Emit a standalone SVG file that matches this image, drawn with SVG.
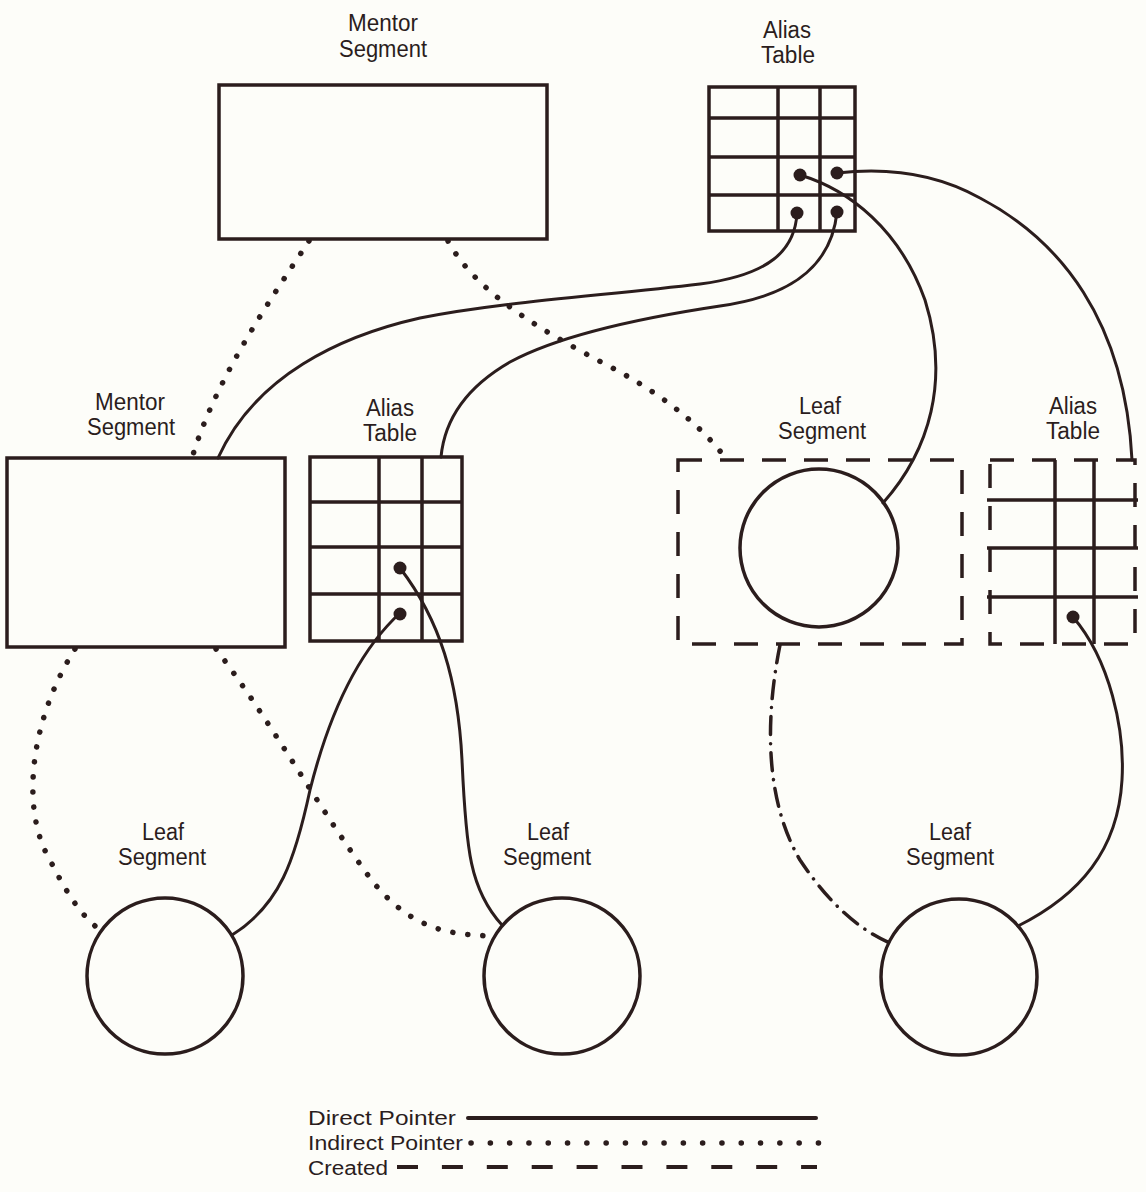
<svg xmlns="http://www.w3.org/2000/svg" width="1146" height="1192" viewBox="0 0 1146 1192">
<style>
  .box{fill:none;stroke:#2b1d1d;stroke-width:3.5}
  .grid{fill:none;stroke:#2b1d1d;stroke-width:3.5}
  .dash{fill:none;stroke:#2b1d1d;stroke-width:3.5;stroke-dasharray:24 18}
  .circ{fill:none;stroke:#2b1d1d;stroke-width:3.5}
  .direct{fill:none;stroke:#2b1d1d;stroke-width:3;stroke-linecap:round}
  .indirect{fill:none;stroke:#2b1d1d;stroke-width:5.5;stroke-linecap:round;stroke-dasharray:0.1 15}
  .created{fill:none;stroke:#2b1d1d;stroke-width:3.5;stroke-linecap:round;stroke-dasharray:18 9 0.1 9}
  .dot{fill:#2b1d1d}
  .lbl{font-family:"Liberation Sans",Arial,sans-serif;font-size:23px;fill:#2b1d1d;text-anchor:middle}
  .leg{font-family:"Liberation Sans",Arial,sans-serif;font-size:20px;fill:#2b1d1d}
</style>
<rect x="0" y="0" width="1146" height="1192" fill="#fdfdf9"/>

<g id="connectors">
  <!-- direct pointers -->
  <path class="direct" d="M797,213 C795,250 770,275 700,284 C600,296 500,302 420,318 C340,336 255,376 218,458"/>
  <path class="direct" d="M837,212 C832,260 800,295 720,306 C640,318 560,335 510,362 C470,385 445,415 441,457"/>
  <path class="direct" d="M800,175 C850,190 900,230 925,300 C950,380 930,450 883,503"/>
  <path class="direct" d="M837,173 C880,168 930,170 980,198 C1060,240 1125,320 1132,460"/>
  <path class="direct" d="M400,568 C440,620 458,680 462,760 C466,850 470,890 502,925"/>
  <path class="direct" d="M400,613 C360,650 330,710 310,790 C295,860 280,905 232,935"/>
  <path class="direct" d="M1073,617 C1110,660 1125,730 1122,780 C1118,850 1080,895 1018,926"/>
  <!-- indirect pointers -->
  <path class="indirect" d="M309,241 C270,300 215,380 192,458"/>
  <path class="indirect" d="M448,241 C480,300 560,340 620,372 C670,400 705,430 727,460"/>
  <path class="indirect" d="M75,649 C30,720 20,810 50,860 C65,890 80,915 100,930"/>
  <path class="indirect" d="M216,649 C270,720 320,810 370,878 C410,930 450,935 494,936"/>
  <!-- created -->
  <path class="created" d="M780,645 C765,720 765,800 800,860 C830,905 860,930 890,943"/>
</g>

<g id="mentor-top">
  <text class="lbl" x="383" y="31" textLength="70" lengthAdjust="spacingAndGlyphs">Mentor</text>
  <text class="lbl" x="383" y="57" textLength="88" lengthAdjust="spacingAndGlyphs">Segment</text>
  <rect class="box" x="219" y="85" width="328" height="154"/>
</g>

<g id="alias-top">
  <text class="lbl" x="787" y="38" textLength="48" lengthAdjust="spacingAndGlyphs">Alias</text>
  <text class="lbl" x="788" y="63" textLength="54" lengthAdjust="spacingAndGlyphs">Table</text>
  <rect class="grid" x="709" y="87" width="146" height="144"/>
  <path class="grid" d="M709,118 H855 M709,157 H855 M709,195 H855 M778,87 V231 M820,87 V231"/>
  <circle class="dot" cx="800" cy="175" r="6.5"/>
  <circle class="dot" cx="837" cy="173" r="6.5"/>
  <circle class="dot" cx="797" cy="213" r="6.5"/>
  <circle class="dot" cx="837" cy="212" r="6.5"/>
</g>

<g id="mentor-left">
  <text class="lbl" x="130" y="410" textLength="70" lengthAdjust="spacingAndGlyphs">Mentor</text>
  <text class="lbl" x="131" y="435" textLength="88" lengthAdjust="spacingAndGlyphs">Segment</text>
  <rect class="box" x="7" y="458" width="278" height="189"/>
</g>

<g id="alias-left">
  <text class="lbl" x="390" y="416" textLength="48" lengthAdjust="spacingAndGlyphs">Alias</text>
  <text class="lbl" x="390" y="441" textLength="54" lengthAdjust="spacingAndGlyphs">Table</text>
  <rect class="grid" x="310" y="457" width="152" height="184"/>
  <path class="grid" d="M310,502 H462 M310,547 H462 M310,594 H462 M379,457 V641 M422,457 V641"/>
  <circle class="dot" cx="400" cy="568" r="6.5"/>
  <circle class="dot" cx="400" cy="614" r="6.5"/>
</g>

<g id="leaf-created">
  <text class="lbl" x="820" y="414" textLength="42" lengthAdjust="spacingAndGlyphs">Leaf</text>
  <text class="lbl" x="822" y="439" textLength="88" lengthAdjust="spacingAndGlyphs">Segment</text>
  <rect class="dash" x="678" y="460" width="284" height="184"/>
  <circle class="circ" cx="819" cy="548" r="79"/>
</g>

<g id="alias-created">
  <text class="lbl" x="1073" y="414" textLength="48" lengthAdjust="spacingAndGlyphs">Alias</text>
  <text class="lbl" x="1073" y="439" textLength="54" lengthAdjust="spacingAndGlyphs">Table</text>
  <rect class="dash" x="990" y="460" width="145" height="184"/>
  <path class="grid" d="M987,500 H1138 M987,548 H1138 M987,597 H1138 M1055,460 V644 M1094,460 V644"/>
  <circle class="dot" cx="1073" cy="617" r="6.5"/>
</g>

<g id="leaf-1">
  <text class="lbl" x="163" y="840" textLength="42" lengthAdjust="spacingAndGlyphs">Leaf</text>
  <text class="lbl" x="162" y="865" textLength="88" lengthAdjust="spacingAndGlyphs">Segment</text>
  <circle class="circ" cx="165" cy="976" r="78"/>
</g>

<g id="leaf-2">
  <text class="lbl" x="548" y="840" textLength="42" lengthAdjust="spacingAndGlyphs">Leaf</text>
  <text class="lbl" x="547" y="865" textLength="88" lengthAdjust="spacingAndGlyphs">Segment</text>
  <circle class="circ" cx="562" cy="976" r="78"/>
</g>

<g id="leaf-3">
  <text class="lbl" x="950" y="840" textLength="42" lengthAdjust="spacingAndGlyphs">Leaf</text>
  <text class="lbl" x="950" y="865" textLength="88" lengthAdjust="spacingAndGlyphs">Segment</text>
  <circle class="circ" cx="959" cy="977" r="78"/>
</g>

<g id="legend">
  <text class="leg" x="308" y="1125" textLength="148" lengthAdjust="spacingAndGlyphs">Direct Pointer</text>
  <line class="direct" x1="468" y1="1118" x2="816" y2="1118" style="stroke-width:4"/>
  <text class="leg" x="308" y="1150" textLength="155" lengthAdjust="spacingAndGlyphs">Indirect Pointer</text>
  <line class="indirect" x1="471" y1="1143" x2="820" y2="1143" style="stroke-dasharray:0.1 19.2"/>
  <text class="leg" x="308" y="1175" textLength="80" lengthAdjust="spacingAndGlyphs">Created</text>
  <line x1="397" y1="1167" x2="817" y2="1167" style="fill:none;stroke:#2b1d1d;stroke-width:4;stroke-dasharray:21 23.9"/>
</g>
</svg>
